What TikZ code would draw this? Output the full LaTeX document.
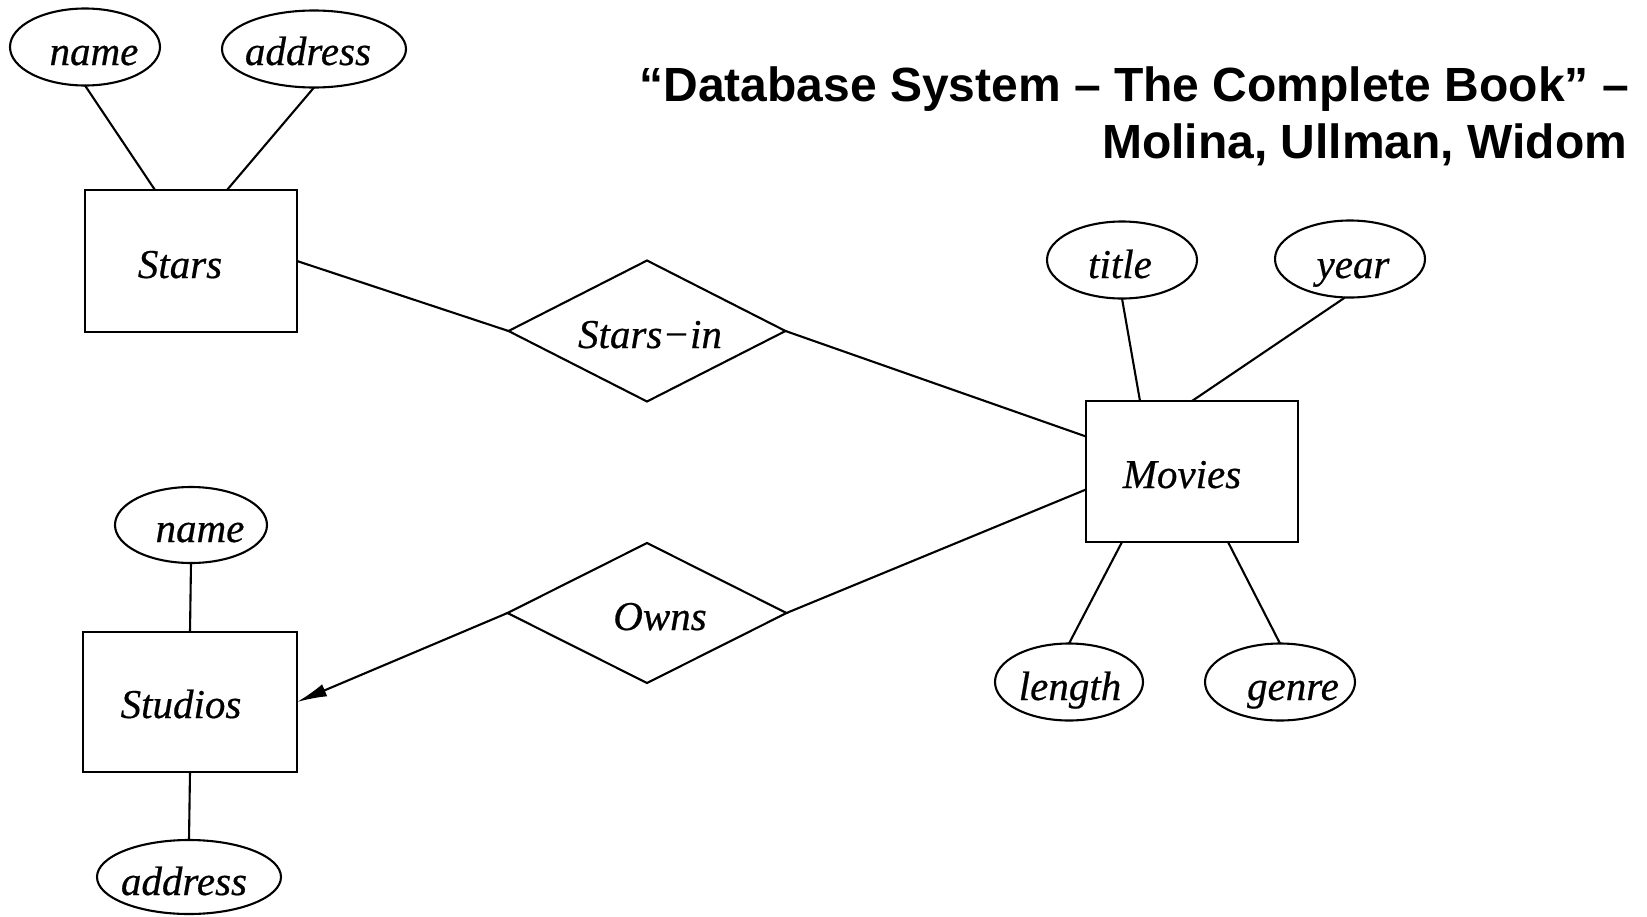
\documentclass[tikz,border=0pt]{standalone}
\usepackage{fontspec}
\setmainfont{Liberation Serif}
\newfontfamily\headfont{Liberation Sans}
\newfontfamily\lblfont{Liberation Serif}[ItalicFeatures={FakeBold=0.5}]
\usetikzlibrary{shapes.geometric,arrows.meta,calc}

\begin{document}
\begin{tikzpicture}[x=1pt,y=-1pt,
  every node/.style={inner sep=0pt, outer sep=0pt},
  attr/.style={draw, ellipse, line width=2.1pt, minimum width=150pt, minimum height=77pt},
  ent/.style={draw, rectangle, line width=2.1pt, minimum width=212pt, minimum height=141pt},
  rel/.style={draw, diamond, line width=2.1pt, minimum width=277pt, minimum height=141pt},
  lbl/.style={anchor=base, font=\lblfont\itshape\fontsize{41}{41}\selectfont},
  link/.style={line width=2.1pt},
  headline/.style={anchor=base east, font={\headfont\bfseries\fontsize{48}{58}\selectfont}},
]
\useasboundingbox (0,0) rectangle (1647,916);

% entities
\node[ent, minimum height=142pt] (stars) at (191,261) {};
\node[ent] (movies) at (1192,471.5) {};
\node[ent, minimum width=214pt, minimum height=140pt] (studios) at (190,702) {};

% relationships
\node[rel] (starsin) at (647,331) {};
\node[rel, minimum width=279pt, minimum height=140pt] (owns) at (647,613) {};

% attributes
\node[attr] (sname) at (85,47) {};
\node[attr, minimum width=184pt] (saddr) at (314,49) {};
\node[attr] (title) at (1122,260) {};
\node[attr] (year) at (1350,259) {};
\node[attr, minimum width=148pt] (length) at (1069,682) {};
\node[attr] (genre) at (1280,682) {};
\node[attr, minimum width=152pt, minimum height=76pt] (stname) at (191,525) {};
\node[attr, minimum width=184pt, minimum height=74pt] (staddr) at (189,877) {};

% labels
\node[lbl] (tsname) at (94,65) {name};
\node[lbl] (tsaddr) at (308,65) {address};
\node[lbl] (tstars) at (180,278) {Stars};
\node[lbl] (tstarsin) at (650,348) {Stars−in};
\node[lbl] (tmovies) at (1182,488) {Movies};
\node[lbl] (ttitle) at (1120,278) {title};
\node[lbl] (tyear) at (1353,278) {year};
\node[lbl] (tlength) at (1070,700) {length};
\node[lbl] (tgenre) at (1293,700) {genre};
\node[lbl] (tstname) at (200,542) {name};
\node[lbl] (tstudios) at (181,718) {Studios};
\node[lbl] (tstaddr) at (184,895) {address};
\node[lbl] (towns) at (660,630) {Owns};

% heading
\node[headline] (head1) at (1629,101) {“Database System – The Complete Book” –};
\node[headline] (head2) at (1627,158) {Molina, Ullman, Widom};

% connectors
\draw[link] (sname.south) -- ([xshift=-36pt]stars.north);
\draw[link] (saddr.south) -- ([xshift=36pt]stars.north);
\draw[link] (stars.east) -- (starsin.west);
\draw[link] (starsin.east) -- ([yshift=35pt]movies.west);
\draw[link] (owns.east) -- ([yshift=-18pt]movies.west);
\draw[link, -{Latex[length=30pt,width=13pt]}] (owns.west) -- (studios.east);
\draw[link] (stname.south) -- (studios.north);
\draw[link] (studios.south) -- (staddr.north);
\draw[link] (title.south) -- ([xshift=-52pt]movies.north);
\draw[link] ([xshift=-5pt]year.south) -- (movies.north);
\draw[link] ([xshift=-70pt]movies.south) -- (length.north);
\draw[link] ([xshift=36pt]movies.south) -- (genre.north);
\end{tikzpicture}
\end{document}
